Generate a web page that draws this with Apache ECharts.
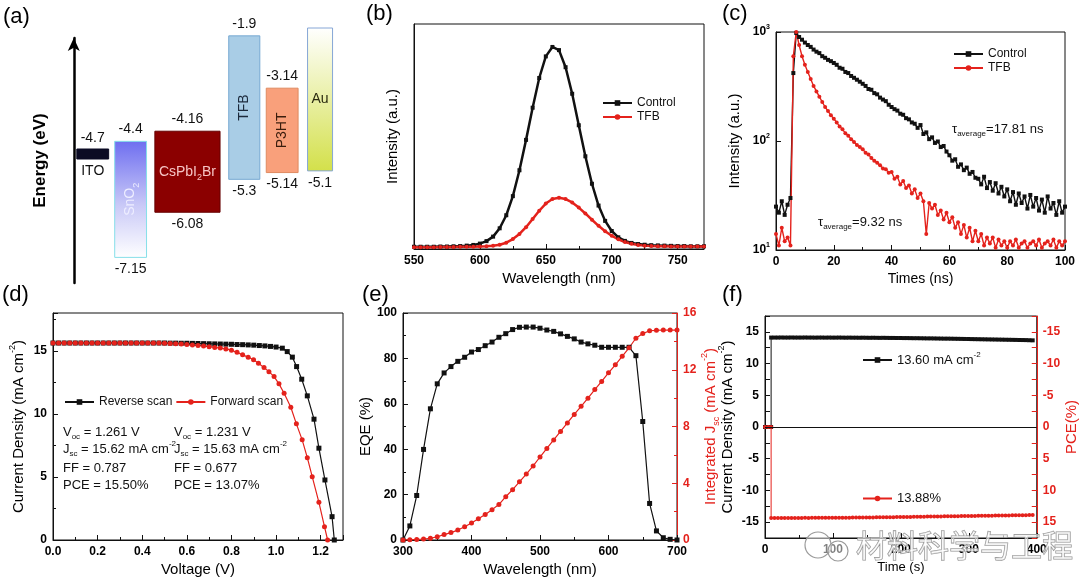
<!DOCTYPE html>
<html>
<head>
<meta charset="utf-8">
<script src="https://cdn.jsdelivr.net/npm/echarts@6/dist/echarts.min.js"></script>
<style>
html, body { margin: 0; padding: 0; background: #fff; }
#main { width: 1080px; height: 581px; }
</style>
</head>
<body>
<div id="main"></div>
<script>
// ---- (a) band diagram, eV ----
var layerNames = ['ITO', 'SnO2', 'CsPbI2Br', 'TFB', 'P3HT', 'Au'];
var upperLevels = [null, -4.4, -4.16, -1.9, -3.14, null];
var lowerLevels = [-4.7, -7.15, -6.08, -5.3, -5.14, -5.1];

// ---- (b) steady-state PL ----
var plWavelength = [550, 555, 560, 565, 570, 575, 580, 585, 590, 595, 600, 605, 610, 615, 620, 625, 630, 635, 640, 645,
    650, 655, 660, 665, 670, 675, 680, 685, 690, 695, 700, 705, 710, 715, 720, 725, 730, 735, 740, 745, 750, 755, 760, 765, 770];
var plControl = [0.010, 0.010, 0.010, 0.010, 0.011, 0.011, 0.012, 0.013, 0.015, 0.018, 0.024, 0.035, 0.055, 0.092, 0.150,
    0.235, 0.350, 0.485, 0.628, 0.760, 0.856, 0.898, 0.884, 0.808, 0.690, 0.550, 0.412, 0.290, 0.193, 0.125,
    0.080, 0.052, 0.036, 0.027, 0.022, 0.019, 0.017, 0.016, 0.015, 0.014, 0.013, 0.013, 0.012, 0.012, 0.012];
var plTfb = [0.008, 0.008, 0.008, 0.008, 0.009, 0.009, 0.009, 0.010, 0.010, 0.010, 0.011, 0.012, 0.014, 0.019, 0.028,
    0.044, 0.067, 0.097, 0.133, 0.170, 0.202, 0.222, 0.228, 0.222, 0.207, 0.184, 0.158, 0.130, 0.103, 0.079,
    0.059, 0.043, 0.031, 0.023, 0.018, 0.015, 0.013, 0.012, 0.012, 0.011, 0.011, 0.011, 0.011, 0.011, 0.011];

// ---- (c) TRPL decay ----
var trplTime = [0, 1, 2, 3, 4, 5, 6, 7, 8, 9, 10, 11, 12, 13, 14, 15, 16, 17, 18, 19, 20, 21, 22, 23, 24, 25, 26, 27, 28, 29,
    30, 31, 32, 33, 34, 35, 36, 37, 38, 39, 40, 41, 42, 43, 44, 45, 46, 47, 48, 49, 50, 51, 52, 53, 54, 55, 56, 57, 58, 59,
    60, 61, 62, 63, 64, 65, 66, 67, 68, 69, 70, 71, 72, 73, 74, 75, 76, 77, 78, 79, 80, 81, 82, 83, 84, 85, 86, 87, 88, 89,
    90, 91, 92, 93, 94, 95, 96, 97, 98, 99, 100];
var trplControl = [25, 22, 28, 21, 26, 30, 420, 980, 900, 850,
    800, 760, 730, 690, 660, 640, 600, 580, 555, 540,
    520, 500, 470, 460, 430, 420, 395, 380, 365, 350,
    335, 320, 300, 295, 275, 268, 250, 240, 232, 215,
    205, 196, 190, 178, 174, 162, 158, 148, 144, 132,
    140, 116, 120, 104, 108, 96, 99, 88, 90, 80,
    74, 66, 68, 58, 61, 54, 57, 50, 52, 46,
    45, 40, 47, 37, 42, 35, 41, 33, 38, 31,
    36, 28, 34, 26, 33, 27, 31, 24, 32, 25,
    30, 23, 29, 22, 31, 24, 27, 21, 28, 22,
    25];
var trplTfb = [14, 11, 16, 12, 13, 11, 600, 1000, 760, 600,
    500, 430, 370, 320, 285, 255, 228, 205, 188, 172,
    160, 148, 136, 128, 118, 112, 104, 98, 92, 88,
    84, 78, 75, 70, 66, 63, 60, 56, 55, 51,
    52, 45, 47, 40, 43, 37, 39, 33, 36, 30,
    33, 28, 14, 27, 24, 26, 21, 23, 19, 22,
    18, 20, 16, 18, 14, 17, 13, 16, 12, 15,
    12, 14, 11, 13, 11.5, 13, 10.5, 12.5, 11, 12,
    10.5, 12, 11, 12.5, 10.5, 11.5, 12, 10.5, 11.5, 12,
    11, 12.5, 10.5, 11.5, 12, 11, 12.5, 10.5, 12, 11,
    12];

// ---- (d) J-V ----
var jvReverseV = [0, 0.025, 0.05, 0.075, 0.1, 0.125, 0.15, 0.175, 0.2, 0.225, 0.25, 0.275, 0.3, 0.325, 0.35, 0.375,
    0.4, 0.425, 0.45, 0.475, 0.5, 0.525, 0.55, 0.575, 0.6, 0.625, 0.65, 0.675, 0.7, 0.725, 0.75, 0.775, 0.8, 0.825,
    0.85, 0.875, 0.9, 0.925, 0.95, 0.975, 1.0,
    1.028, 1.05, 1.073, 1.092, 1.115, 1.14, 1.17, 1.192, 1.219, 1.251, 1.261];
var jvReverseJ = [15.62, 15.62, 15.62, 15.62, 15.62, 15.62, 15.62, 15.62, 15.62, 15.62, 15.62, 15.62, 15.62, 15.62,
    15.62, 15.62, 15.62, 15.62, 15.62, 15.62, 15.62,
    15.61, 15.61, 15.6, 15.6, 15.59, 15.58, 15.57, 15.56, 15.55, 15.54, 15.53, 15.52, 15.5, 15.49, 15.47, 15.45,
    15.42, 15.39, 15.35, 15.3,
    15.21, 14.94, 14.5, 13.75, 12.75, 11.43, 9.58, 7.28, 4.76, 1.85, 0];
var jvForwardV = [0, 0.025, 0.05, 0.075, 0.1, 0.125, 0.15, 0.175, 0.2, 0.225, 0.25, 0.275, 0.3, 0.325, 0.35, 0.375,
    0.4, 0.425, 0.45, 0.475, 0.5, 0.525, 0.55, 0.575, 0.6, 0.625, 0.65, 0.675, 0.7, 0.725, 0.75, 0.775, 0.8, 0.825,
    0.85, 0.875, 0.899, 0.921, 0.946, 0.968, 0.991, 1.013, 1.036, 1.066, 1.091, 1.117, 1.14, 1.162, 1.192, 1.217, 1.231];
var jvForwardJ = [15.63, 15.63, 15.63, 15.63, 15.63, 15.63, 15.63, 15.63, 15.63, 15.63, 15.63, 15.63, 15.63, 15.63,
    15.63, 15.63, 15.63, 15.63, 15.63,
    15.62, 15.61, 15.59, 15.57, 15.54, 15.51, 15.47, 15.43, 15.38, 15.33, 15.27, 15.22, 15.15, 15.05, 14.88,
    14.68, 14.5, 14.29, 14.02, 13.67, 13.35, 12.96, 12.38, 11.64, 10.53, 9.21, 7.94, 6.53, 5.02, 2.99, 1.06, 0];

// ---- (e) EQE and integrated Jsc ----
var eqeWavelength = [300, 310, 320, 330, 340, 350, 360, 370, 380, 390, 400, 410, 420, 430, 440, 450, 460, 470, 480, 490,
    500, 510, 520, 530, 540, 550, 560, 570, 580, 590, 600, 610, 620, 630, 640, 650, 660, 670, 680, 690, 700];
var eqeValues = [0, 6.2, 19.6, 39.9, 57.8, 68.8, 73.6, 76.4, 78.7, 80.5, 82.8, 83.9, 85.6, 87.2, 89.3, 90.9, 92.7, 93.7,
    93.8, 93.8, 93.3, 92.5, 91.9, 90.8, 89.7, 88.6, 87.2, 86.4, 85.8, 84.9, 84.9, 84.9, 84.9, 84.9, 81.2, 52.2, 16.1,
    4.0, 1.0, 0.3, 0];
var jscIntegrated = [0, 0.02, 0.04, 0.07, 0.12, 0.23, 0.38, 0.52, 0.7, 0.93, 1.2, 1.5, 1.8, 2.14, 2.5, 3.05, 3.55, 4.1,
    4.65, 5.22, 5.85, 6.45, 7.05, 7.65, 8.25, 8.85, 9.42, 10.0, 10.6, 11.18, 11.78, 12.35, 12.95, 13.55, 14.22, 14.55,
    14.75, 14.78, 14.8, 14.8, 14.8];

// ---- (f) stabilized output ----
var stableTime = [0, 5, 9, 9, 14, 19, 24, 29, 34, 39, 44, 49, 54, 59, 64, 69, 74, 79, 84, 89, 94, 99, 104, 109, 114, 119,
    124, 129, 134, 139, 144, 149, 154, 159, 164, 169, 174, 179, 184, 189, 194, 199, 204, 209, 214, 219, 224, 229, 234,
    239, 244, 249, 254, 259, 264, 269, 274, 279, 284, 289, 294, 299, 304, 309, 314, 319, 324, 329, 334, 339, 344, 349,
    354, 359, 364, 369, 374, 379, 384, 389, 394];
var stableJ = [0, 0, 0, 14.1,
    14.10, 14.10, 14.11, 14.10, 14.10, 14.11, 14.10, 14.10, 14.10, 14.11, 14.10, 14.10, 14.09, 14.10, 14.10, 14.09, 14.10, 14.09, 14.09, 14.10,
    14.09, 14.08, 14.09, 14.08, 14.08, 14.07, 14.08, 14.07, 14.06, 14.07, 14.06, 14.05, 14.06, 14.05, 14.04, 14.04, 14.03, 14.03, 14.02, 14.02,
    14.01, 14.00, 14.00, 13.99, 13.98, 13.97, 13.97, 13.96, 13.95, 13.94, 13.93, 13.93, 13.92, 13.91, 13.90, 13.89, 13.88, 13.87, 13.86, 13.85,
    13.84, 13.83, 13.82, 13.81, 13.80, 13.79, 13.78, 13.77, 13.76, 13.75, 13.74, 13.73, 13.72, 13.71, 13.70, 13.68, 13.66];
var stablePce = [0, 0, 0, 14.35,
    14.35, 14.34, 14.35, 14.34, 14.34, 14.33, 14.34, 14.33, 14.33, 14.32, 14.33, 14.32, 14.32, 14.31, 14.32, 14.31, 14.31, 14.30, 14.31, 14.30,
    14.30, 14.29, 14.29, 14.28, 14.28, 14.27, 14.27, 14.26, 14.26, 14.25, 14.24, 14.24, 14.23, 14.22, 14.22, 14.21, 14.20, 14.19, 14.19, 14.18,
    14.17, 14.16, 14.16, 14.15, 14.14, 14.13, 14.12, 14.12, 14.11, 14.10, 14.09, 14.08, 14.08, 14.07, 14.06, 14.05, 14.04, 14.04, 14.03, 14.02,
    14.01, 14.00, 14.00, 13.99, 13.98, 13.97, 13.96, 13.96, 13.95, 13.94, 13.93, 13.92, 13.92, 13.91, 13.90, 13.89, 13.88];

// ---------------------------------------------------------------
var FONT = '"Liberation Sans", Arial, sans-serif';
var BLACK = '#111';
var RED = '#e4221c';

function pairs(xs, ys) {
    return xs.map(function (x, i) { return [x, ys[i]]; });
}

function merge(a, b) {
    var o = {}, k;
    for (k in a) o[k] = a[k];
    for (k in b) {
        if (b[k] && typeof b[k] === 'object' && !Array.isArray(b[k]) && a[k] && typeof a[k] === 'object') {
            o[k] = merge(a[k], b[k]);
        } else {
            o[k] = b[k];
        }
    }
    return o;
}

// rich text styles: n = normal, u = superscript, d = subscript
function richSet(size, color, weight) {
    var small = Math.round(size * 0.62);
    var w = weight || 'normal';
    return {
        n: { fontFamily: FONT, fontSize: size, fontWeight: w, color: color, fill: color, lineHeight: Math.round(size * 1.4) },
        u: { fontFamily: FONT, fontSize: small, fontWeight: w, color: color, fill: color, lineHeight: small, verticalAlign: 'top' },
        d: { fontFamily: FONT, fontSize: small, fontWeight: w, color: color, fill: color, lineHeight: small, verticalAlign: 'bottom' }
    };
}

var baseAxis = {
    type: 'value',
    axisLine: { show: true, onZero: false, lineStyle: { color: BLACK, width: 1 } },
    axisTick: { show: true, inside: true, length: 5, lineStyle: { color: BLACK, width: 1 } },
    minorTick: { show: true, splitNumber: 2, length: 3, lineStyle: { color: BLACK, width: 1 } },
    axisLabel: { color: '#000', fontFamily: FONT, fontSize: 12, fontWeight: 'bold', margin: 6 },
    splitLine: { show: false },
    nameLocation: 'middle',
    nameTextStyle: { color: '#000', fontFamily: FONT, fontSize: 15 }
};
function axis(extra) { return merge(baseAxis, extra); }

var boxGrid = { show: true, borderColor: BLACK, borderWidth: 1, backgroundColor: 'transparent' };

// ---- (a) layout and styles of the bands ----
var Y_A_MIN = -7.757, Y_A_MAX = -1.951;
var layerSlot = [0.5, 1.5, 3, 4.5, 5.5, 6.5];
var layerWidth = [0.84, 0.84, 1.72, 0.82, 0.84, 0.66];
var layerStyle = [
    { fill: '#0b0b24', stroke: '#0b0b24', text: '#111', label: 'ITO' },
    { fill: new echarts.graphic.LinearGradient(0, 0, 0, 1, [
        { offset: 0, color: '#6e6ef0' }, { offset: 0.55, color: '#c9c9f7' }, { offset: 1, color: '#ffffff' }]),
      stroke: '#86dfe9', text: '#eeeeff', label: '{n|SnO}{d|2}', rotate: true },
    { fill: '#8b0000', stroke: '#650000', text: '#f6c4c4', label: '{n|CsPbI}{d|2}{n|Br}' },
    { fill: '#a9cde6', stroke: '#76a9d2', text: '#1c2a3c', label: '{n|TFB}', rotate: true },
    { fill: '#f9a07b', stroke: '#df8a60', text: '#3b1d0d', label: '{n|P3HT}', rotate: true },
    { fill: new echarts.graphic.LinearGradient(0, 0, 0, 1, [
        { offset: 0, color: '#ffffff' }, { offset: 1, color: '#d3e04a' }]),
      stroke: '#86a6d6', text: '#2b2b10', label: '{n|Au}' }
];

function levelText(x, y, str, color, rotate, rich) {
    return {
        type: 'text', x: x, y: y, rotation: rotate ? Math.PI / 2 : 0, silent: true,
        style: {
            text: str, fill: color, fontFamily: FONT, fontSize: 14,
            align: 'center', verticalAlign: 'middle', textAlign: 'center', textVerticalAlign: 'middle',
            rich: rich
        }
    };
}

function renderBand(params, api) {
    var i = params.dataIndex;
    var st = layerStyle[i];
    var lower = lowerLevels[i], upper = upperLevels[i];
    var cx = api.coord([layerSlot[i], lower])[0];
    var w = api.size([layerWidth[i], 0])[0];
    var yLow = api.coord([layerSlot[i], lower])[1];
    var yUp;
    var kids = [];
    var rich = richSet(14, st.text);
    if (i === 0) {
        // electrode drawn as a thin bar at its work function
        yUp = yLow - 5;
        yLow = yLow + 5;
        kids.push({ type: 'rect', shape: { x: cx - w / 2, y: yUp, width: w, height: yLow - yUp },
            style: { fill: st.fill, stroke: st.stroke, lineWidth: 1 } });
        kids.push(levelText(cx, yUp - 11, String(lower), '#111', false));
        kids.push(levelText(cx, yLow + 12, st.label, '#111', false));
        return { type: 'group', children: kids };
    }
    if (upper == null) {
        yUp = api.coord([0, Y_A_MAX])[1] - 10;
    } else {
        yUp = api.coord([layerSlot[i], upper])[1];
    }
    kids.push({ type: 'rect', shape: { x: cx - w / 2, y: yUp, width: w, height: yLow - yUp },
        style: { fill: st.fill, stroke: st.stroke, lineWidth: 1 } });
    if (upper != null) kids.push(levelText(cx, yUp - 12, String(upper), '#111', false));
    kids.push(levelText(cx, yLow + 12, String(lower), '#111', false));
    kids.push(levelText(cx, (yUp + yLow) / 2, st.label, st.text, st.rotate, rich));
    return { type: 'group', children: kids };
}

function logLabel(v) {
    var e = Math.round(Math.log(v) / Math.LN10);
    return '{n|10}{u|' + e + '}';
}

function panelLabel(text, x, y) {
    return { type: 'text', x: x, y: y, silent: true,
        style: { text: text, fill: '#000', fontFamily: FONT, fontSize: 22, align: 'left', verticalAlign: 'middle',
            textAlign: 'left', textVerticalAlign: 'middle' } };
}
function annoText(text, x, y, size, color) {
    return { type: 'text', x: x, y: y, silent: true,
        style: { text: text, rich: richSet(size, color || '#111'), align: 'left', verticalAlign: 'middle',
            textAlign: 'left', textVerticalAlign: 'middle' } };
}

var legendBase = {
    selectedMode: false, padding: 0, itemWidth: 29, itemHeight: 7,
    textStyle: { fontFamily: FONT, fontSize: 12, color: '#111' }
};

var option = {
    animation: false,
    backgroundColor: '#fff',
    grid: [
        { left: 70, top: 38, width: 269, height: 245 },
        merge(boxGrid, { left: 414, top: 24, width: 290, height: 225 }),
        merge(boxGrid, { left: 776, top: 32, width: 289, height: 218 }),
        merge(boxGrid, { left: 53, top: 313, width: 290, height: 227 }),
        merge(boxGrid, { left: 403, top: 313, width: 274, height: 227 }),
        merge(boxGrid, { left: 765, top: 316, width: 275, height: 222 })
    ],
    xAxis: [
        { type: 'value', gridIndex: 0, min: -0.1, max: 7, show: false },
        axis({ gridIndex: 1, min: 550, max: 770, interval: 50, name: 'Wavelength (nm)', nameGap: 22,
            axisLabel: { showMaxLabel: false } }),
        axis({ gridIndex: 2, min: 0, max: 100, interval: 20, name: 'Times (ns)', nameGap: 22,
            nameTextStyle: { fontSize: 14 } }),
        axis({ gridIndex: 3, min: 0, max: 1.3, interval: 0.2, name: 'Voltage (V)', nameGap: 22,
            axisLabel: { showMaxLabel: false, formatter: function (v) { return v.toFixed(1); } } }),
        axis({ gridIndex: 4, min: 300, max: 700, interval: 100, name: 'Wavelength (nm)', nameGap: 22 }),
        axis({ gridIndex: 5, min: 0, max: 400, interval: 100, name: 'Time (s)', nameGap: 23,
            nameTextStyle: { fontSize: 13 } })
    ],
    yAxis: [
        { type: 'value', gridIndex: 0, min: Y_A_MIN, max: Y_A_MAX,
            axisLine: { show: true, symbol: ['none', 'arrow'], symbolSize: [9, 13], lineStyle: { color: '#000', width: 2.5 } },
            axisTick: { show: false }, axisLabel: { show: false }, splitLine: { show: false },
            name: 'Energy (eV)', nameLocation: 'middle', nameGap: 21,
            nameTextStyle: { color: '#000', fontFamily: FONT, fontSize: 17, fontWeight: 'bold' } },
        axis({ gridIndex: 1, min: 0, max: 1, axisTick: { show: false }, minorTick: { show: false },
            axisLabel: { show: false }, name: 'Intensity (a.u.)', nameGap: 14 }),
        axis({ gridIndex: 2, type: 'log', logBase: 10, min: 10, max: 1000, minorTick: { show: false },
            axisLabel: { formatter: logLabel, rich: richSet(12, '#000', 'bold') },
            name: 'Intensity (a.u.)', nameGap: 34 }),
        axis({ gridIndex: 3, min: 0, max: 18, interval: 5, axisLabel: { showMaxLabel: false },
            name: '{n|Current Density (mA cm}{u|-2}{n|)}', nameGap: 24,
            nameTextStyle: { rich: richSet(15, '#000') } }),
        axis({ gridIndex: 4, min: 0, max: 100, interval: 20, name: 'EQE (%)', nameGap: 29 }),
        axis({ gridIndex: 4, position: 'right', min: 0, max: 16, interval: 4,
            axisLine: { lineStyle: { color: RED } }, axisTick: { lineStyle: { color: RED } },
            minorTick: { lineStyle: { color: RED } }, axisLabel: { color: RED },
            name: '{n|Integrated J}{d|sc}{n| (mA cm}{u|-2}{n|)}', nameGap: 12, nameRotate: 90,
            nameTextStyle: { rich: richSet(15, RED) } }),
        axis({ gridIndex: 5, min: -17.5, max: 17.5, interval: 2.5, minorTick: { show: false },
            axisLabel: { formatter: function (v) { return v % 5 === 0 ? String(v) : ''; } },
            name: '{n|Current Density (mA cm}{u|-2}{n|)}', nameGap: 27,
            nameTextStyle: { rich: richSet(15, '#000') } }),
        axis({ gridIndex: 5, position: 'right', inverse: true, min: -17.5, max: 17.5, interval: 2.5,
            minorTick: { show: false },
            axisLine: { lineStyle: { color: RED } }, axisTick: { lineStyle: { color: RED } },
            axisLabel: { color: RED, formatter: function (v) { return v % 5 === 0 ? String(v) : ''; } },
            name: 'PCE(%)', nameGap: 23, nameRotate: 90, nameTextStyle: { color: RED } })
    ],
    legend: [
        merge(legendBase, { data: ['Control', 'TFB'], orient: 'vertical', left: 602, top: 97, itemGap: 2 }),
        merge(legendBase, { data: ['Control', 'TFB'], orient: 'vertical', left: 953, top: 48, itemGap: 2 }),
        merge(legendBase, { data: ['Reverse scan', 'Forward scan'], orient: 'horizontal', left: 64, top: 396, itemGap: 3 }),
        merge(legendBase, { data: ['13.60 mA cm-2'], left: 862, top: 351,
            formatter: '{n|13.60 mA cm}{u|-2}', textStyle: { rich: richSet(13, '#111') } }),
        merge(legendBase, { data: ['13.88%'], left: 862, top: 492, textStyle: { fontSize: 13 } })
    ],
    series: [
        { type: 'custom', name: 'bands', xAxisIndex: 0, yAxisIndex: 0, clip: false, silent: true,
            renderItem: renderBand,
            data: layerNames.map(function (n, i) { return [layerSlot[i], lowerLevels[i]]; }) },

        { type: 'line', name: 'Control', xAxisIndex: 1, yAxisIndex: 1, data: pairs(plWavelength, plControl),
            symbol: 'rect', symbolSize: 4, color: BLACK, lineStyle: { width: 2.5, color: BLACK } },
        { type: 'line', name: 'TFB', xAxisIndex: 1, yAxisIndex: 1, data: pairs(plWavelength, plTfb),
            symbol: 'circle', symbolSize: 4, color: RED, lineStyle: { width: 2.5, color: RED } },

        { type: 'line', name: 'Control', xAxisIndex: 2, yAxisIndex: 2, data: pairs(trplTime, trplControl),
            symbol: 'rect', symbolSize: 4, color: BLACK, lineStyle: { width: 1.4, color: BLACK } },
        { type: 'line', name: 'TFB', xAxisIndex: 2, yAxisIndex: 2, data: pairs(trplTime, trplTfb),
            symbol: 'circle', symbolSize: 4, color: RED, lineStyle: { width: 1.4, color: RED } },

        { type: 'line', name: 'Reverse scan', xAxisIndex: 3, yAxisIndex: 3, data: pairs(jvReverseV, jvReverseJ),
            symbol: 'rect', symbolSize: 5, color: BLACK, lineStyle: { width: 1.2, color: BLACK } },
        { type: 'line', name: 'Forward scan', xAxisIndex: 3, yAxisIndex: 3, data: pairs(jvForwardV, jvForwardJ),
            symbol: 'circle', symbolSize: 5, color: RED, lineStyle: { width: 1.2, color: RED } },

        { type: 'line', name: 'EQE', xAxisIndex: 4, yAxisIndex: 4, data: pairs(eqeWavelength, eqeValues),
            symbol: 'rect', symbolSize: 5, color: BLACK, lineStyle: { width: 1.2, color: BLACK } },
        { type: 'line', name: 'Integrated Jsc', xAxisIndex: 4, yAxisIndex: 5, data: pairs(eqeWavelength, jscIntegrated),
            symbol: 'circle', symbolSize: 5, color: RED, lineStyle: { width: 1.2, color: RED } },

        { type: 'line', name: '13.60 mA cm-2', xAxisIndex: 5, yAxisIndex: 6, data: pairs(stableTime, stableJ),
            symbol: 'rect', symbolSize: 4, color: BLACK, lineStyle: { width: 1, color: BLACK },
            markLine: { silent: true, symbol: 'none', label: { show: false },
                lineStyle: { color: BLACK, width: 1, type: 'solid' }, data: [{ yAxis: 0 }] } },
        { type: 'line', name: '13.88%', xAxisIndex: 5, yAxisIndex: 7, data: pairs(stableTime, stablePce),
            symbol: 'circle', symbolSize: 4, color: RED, lineStyle: { width: 1, color: RED } }
    ],
    graphic: { elements: [
        panelLabel('(a)', 3, 17),
        panelLabel('(b)', 366, 14),
        panelLabel('(c)', 722, 14),
        panelLabel('(d)', 2, 295),
        panelLabel('(e)', 362, 295),
        panelLabel('(f)', 722, 295),
        annoText('{n|τ}{d|average}{n|=17.81 ns}', 952, 129, 13),
        annoText('{n|τ}{d|average}{n|=9.32 ns}', 818, 222, 13),
        annoText('{n|V}{d|oc}{n| = 1.261 V}', 63, 432, 13),
        annoText('{n|J}{d|sc}{n| = 15.62 mA cm}{u|-2}', 63, 449, 13),
        annoText('{n|FF = 0.787}', 63, 468, 13),
        annoText('{n|PCE = 15.50%}', 63, 485, 13),
        annoText('{n|V}{d|oc}{n| = 1.231 V}', 174, 432, 13),
        annoText('{n|J}{d|sc}{n| = 15.63 mA cm}{u|-2}', 174, 449, 13),
        annoText('{n|FF = 0.677}', 174, 468, 13),
        annoText('{n|PCE = 13.07%}', 174, 485, 13),
        // watermark
        { type: 'circle', silent: true, z: 100, shape: { cx: 818, cy: 545, r: 13 },
            style: { fill: 'rgba(255,255,255,0.5)', stroke: '#9a9a9a', lineWidth: 1.2 } },
        { type: 'circle', silent: true, z: 100, shape: { cx: 838, cy: 551, r: 10 },
            style: { fill: 'rgba(255,255,255,0.5)', stroke: '#9a9a9a', lineWidth: 1.2 } },
        { type: 'text', silent: true, z: 100, x: 856, y: 545,
            style: { text: '材料科学与工程', fontFamily: '"Noto Sans CJK SC", sans-serif', fontSize: 31,
                fill: 'rgba(255,255,255,0.6)', stroke: '#8f8f8f', lineWidth: 1.1,
                align: 'left', verticalAlign: 'middle', textAlign: 'left', textVerticalAlign: 'middle' } }
    ] }
};

var chart = echarts.init(document.getElementById('main'));
chart.setOption(option);
</script>
</body>
</html>
